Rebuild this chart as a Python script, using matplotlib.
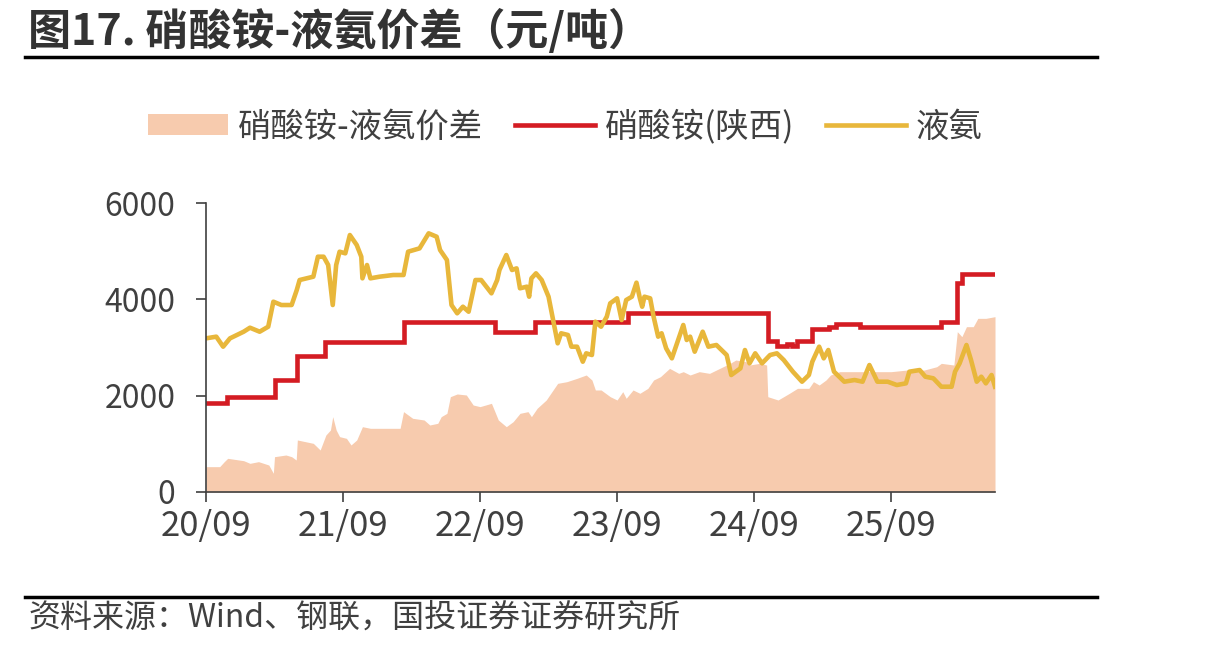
import numpy as np
import pandas as pd
import matplotlib
matplotlib.use('Agg')
import matplotlib.pyplot as plt
from matplotlib.lines import Line2D
from matplotlib.patches import Patch

plt.rcParams['font.family'] = ['Noto Sans CJK SC', 'DejaVu Sans']

# months since 2020-09-01 and values (元/吨)
ammonia_m = [0, 0.9, 1.5, 2.1, 3.3, 3.85, 4.7, 5.45, 5.9, 6.6, 7.5, 7.95, 8.2, 9.4, 9.8, 10.3,
             10.7, 11.1, 11.4, 11.7, 12.2, 12.6, 13.2, 13.6, 13.7, 14.1, 14.4, 15.2, 16.4, 17.3,
             17.7, 18.7, 19.5, 20.2, 20.5, 21.1, 21.5, 22.0, 22.5, 23.0, 23.6, 24.1, 25.0, 25.5,
             25.7, 26.3, 26.8, 27.2, 27.5, 28.1, 28.3, 28.5, 28.9, 29.4, 30.0, 30.4, 30.8, 31.1,
             31.7, 32.0, 32.5, 33.0, 33.3, 33.8, 34.1, 34.6, 35.1, 35.4, 36.0, 36.4, 36.8, 37.3,
             37.7, 38.0, 38.2, 38.4, 38.9, 39.2, 39.6, 39.9, 40.3, 40.8, 41.4, 41.8, 42.1, 42.4,
             42.8, 43.5, 44.0, 44.7, 45.6, 46.0, 46.8, 47.2, 47.6, 48.1, 48.7, 49.4, 50.0, 50.6,
             51.4, 52.2, 52.8, 53.1, 53.7, 54.1, 54.5, 55.0, 55.9, 56.8, 57.5, 58.1, 58.8, 59.7,
             60.5, 61.3, 61.6, 62.5, 63.0, 63.7, 64.4, 65.3, 65.6, 66.0, 66.6, 67.0, 67.5, 67.9,
             68.3, 68.8, 69.1]
ammonia_v = [3190, 3225, 3017, 3190, 3328, 3411, 3328, 3432, 3951, 3882, 3882, 4194, 4401, 4470, 4885, 4885,
             4713, 3882, 4713, 4989, 4955, 5335, 5128, 4885, 4436, 4713, 4436, 4470, 4505, 4505,
             4989, 5058, 5370, 5300, 5024, 4816, 3882, 3710, 3847, 3743, 4401, 4401, 4125, 4401,
             4609, 4920, 4609, 4643, 4229, 4263, 4055, 4436, 4540, 4401, 4055, 3571, 3087, 3295,
             3260, 3017, 3017, 2705, 2879, 2844, 3536, 3432, 3640, 3917, 4021, 3571, 3986, 4055,
             4346, 4021, 3847, 4055, 4021, 3640, 3225, 3295, 2983, 2775, 3190, 3467, 3156, 3225,
             2913, 3328, 3017, 3052, 2844, 2429, 2567, 2948, 2671, 2879, 2671, 2844, 2879, 2740,
             2498, 2290, 2429, 2705, 3017, 2775, 2948, 2498, 2290, 2325, 2290, 2636, 2290, 2290,
             2221, 2256, 2498, 2532, 2394, 2360, 2186, 2186, 2498, 2671, 3052, 2740, 2290, 2394,
             2256, 2429, 2186]

nitrate_m = [0, 1.8, 6.0, 8.0, 10.4, 17.3, 25.3, 28.8, 37.0, 49.2, 50.0, 50.9, 51.3, 51.8, 53.1,
             54.6, 55.2, 57.3, 64.4, 65.8, 66.2, 69.1]
nitrate_v = [1840, 1965, 2325, 2830, 3120, 3523, 3328, 3523, 3723, 3141, 3031, 3080, 3031, 3141, 3377,
             3432, 3488, 3432, 3536, 4332, 4519, 4519]

spread_m = [0, 1.2, 1.6, 1.9, 3.3, 3.85, 4.6, 5.5, 5.9, 6.0, 7.0, 7.5, 7.9, 8.0, 9.4, 10.0, 10.5,
            10.9, 11.1, 11.4, 11.7, 12.3, 12.7, 13.2, 13.7, 14.4, 15.8, 17.0, 17.3, 18.1, 19.1, 19.6,
            20.3, 20.6, 21.1, 21.4, 22.0, 22.8, 23.4, 24.0, 25.0, 25.6, 26.3, 26.9, 27.5, 28.2, 28.5,
            29.0, 29.8, 30.8, 31.6, 32.5, 33.3, 33.8, 34.1, 34.6, 35.4, 36.0, 36.5, 36.8, 37.4, 38.0,
            38.7, 39.2, 39.8, 40.6, 41.4, 41.8, 42.4, 43.2, 44.1, 45.0, 45.9, 46.4, 47.3, 47.6, 48.5,
            49.1, 49.2, 50.1, 51.1, 51.8, 52.8, 53.2, 53.7, 54.3, 54.7, 55.5, 56.8, 58.5, 60.0, 61.4,
            62.9, 64.0, 64.4, 65.5, 65.8, 66.2, 66.6, 67.2, 67.6, 68.3, 69.1]
spread_v = [526, 526, 630, 699, 650, 595, 630, 560, 388, 733, 768, 733, 664, 1080, 1010, 872, 1183,
            1287, 1564, 1287, 1149, 1114, 976, 1080, 1356, 1322, 1322, 1322, 1668, 1530, 1495, 1391,
            1426, 1564, 1633, 1979, 2035, 2014, 1806, 1772, 1841, 1495, 1356, 1460, 1633, 1668, 1564,
            1737, 1910, 2256, 2290, 2360, 2429, 2325, 2118, 2118, 1979, 1910, 2083, 1945, 2118, 2049,
            2152, 2325, 2394, 2567, 2463, 2498, 2429, 2498, 2463, 2567, 2671, 2740, 2705, 2636, 2671,
            2636, 1979, 1910, 2049, 2152, 2152, 2290, 2221, 2325, 2429, 2498, 2498, 2498, 2498, 2532,
            2532, 2601, 2671, 2636, 3328, 3225, 3432, 3432, 3605, 3605, 3640]

tick_labels = ['20/09', '21/09', '22/09', '23/09', '24/09', '25/09']

START = pd.Timestamp('2020-09-01')


def to_dates(months):
    return START + pd.to_timedelta(np.asarray(months) * 30.4375, unit='D')


TEXT = '#404040'
C_SPREAD = '#F7CBAE'
C_NITRATE = '#D41C23'
C_AMMONIA = '#E8B73B'

fig = plt.figure(figsize=(12.13, 6.5), dpi=100)
ax = fig.add_axes([206 / 1213, 1 - 492 / 650, (995 - 206) / 1213, (492 - 203) / 650])

ax.fill_between(to_dates(spread_m), spread_v, 0, color=C_SPREAD, lw=0)
ax.plot(to_dates(nitrate_m), nitrate_v, color=C_NITRATE, lw=3.3, drawstyle='steps-post',
        solid_joinstyle='miter')
ax.plot(to_dates(ammonia_m), ammonia_v, color=C_AMMONIA, lw=3.3, solid_joinstyle='round')

ax.set_xlim(START, to_dates([69.1])[0])
ax.set_ylim(0, 6000)
ax.set_yticks([0, 2000, 4000, 6000])
ticks = [pd.Timestamp(2020 + i, 9, 1) for i in range(len(tick_labels))]
ax.set_xticks(ticks)
ax.set_xticklabels(tick_labels)

for s in ['top', 'right']:
    ax.spines[s].set_visible(False)
for s in ['left', 'bottom']:
    ax.spines[s].set_color(TEXT)
    ax.spines[s].set_linewidth(1.2)
ax.tick_params(axis='y', length=7, width=1.2, color=TEXT, pad=15, labelsize=23, labelcolor=TEXT)
ax.tick_params(axis='x', length=7, width=1.2, color=TEXT, pad=5, labelsize=25, labelcolor=TEXT)
for lab in ax.get_xticklabels() + ax.get_yticklabels():
    lab.set_fontweight('medium')

# title and rules
fig.text(28 / 1213, 1 - 31 / 650, '图17. 硝酸铵-液氨价差（元/吨）', fontsize=31, fontweight='bold',
         color='#333333', va='center', ha='left')
fig.add_artist(Line2D([25 / 1213, 1097 / 1213], [1 - 57 / 650] * 2, color='black', lw=2.5))
fig.add_artist(Line2D([25 / 1213, 1097 / 1213], [1 - 597 / 650] * 2, color='black', lw=2.5))
fig.text(28 / 1213, 1 - 618 / 650, '资料来源：Wind、钢联，国投证券证券研究所', fontsize=23,
         color=TEXT, va='center', ha='left')

handles = [Patch(color=C_SPREAD, lw=0),
           Line2D([], [], color=C_NITRATE, lw=3.3),
           Line2D([], [], color=C_AMMONIA, lw=3.3)]
labels = ['硝酸铵-液氨价差', '硝酸铵(陕西)', '液氨']
fig.legend(handles, labels, loc='center left', bbox_to_anchor=(148 / 1213, 1 - 127 / 650),
           ncol=3, frameon=False, fontsize=24, handlelength=2.4, handleheight=0.6,
           handletextpad=0.3, columnspacing=0.95, borderpad=0, borderaxespad=0,
           labelcolor=TEXT)

fig.savefig('out.png', dpi=100)
